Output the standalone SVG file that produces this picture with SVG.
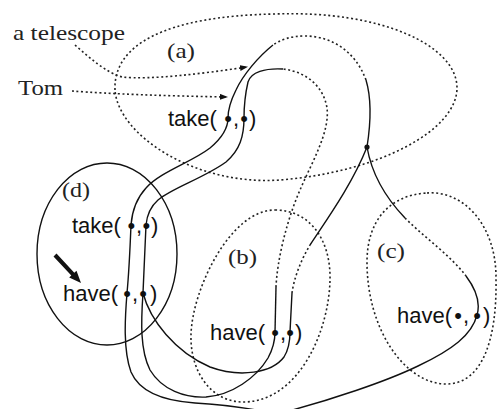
<svg xmlns="http://www.w3.org/2000/svg" width="497" height="409" viewBox="0 0 497 409">
<style>
.bg{fill:#fff}
.dot{fill:none;stroke:#222;stroke-width:1.6;stroke-dasharray:2 2.6}
.sol{fill:none;stroke:#111;stroke-width:1.4}
.serif{font-family:"Liberation Serif","Times New Roman",serif;font-size:22px;fill:#222}
.sans{font-family:"Liberation Sans",Arial,sans-serif;font-size:22px;fill:#111}
</style>
<defs>
<marker id="ah" markerWidth="8" markerHeight="6" refX="7" refY="3" orient="auto" markerUnits="userSpaceOnUse"><path d="M0,0 L8,3 L0,6 z" fill="#111"/></marker>
</defs>
<rect class="bg" x="0" y="0" width="497" height="409"/>

<g id="region-a">
<path class="dot" d="M115,90 C113,45 165,16 275,14 C380,10 457,45 457,88 C457,130 380,172 280,180 C195,186 118,135 115,90 Z"/>
<text class="serif" x="167" y="58" textLength="28" lengthAdjust="spacingAndGlyphs">(a)</text>
</g>
<g id="region-b">
<path class="dot" d="M275,210 C310,210 331,240 330,280 C329,330 300,400 245,402 C210,403 190,370 191,335 C192,290 230,210 275,210 Z"/>
<text class="serif" x="228" y="264" textLength="29" lengthAdjust="spacingAndGlyphs">(b)</text>
</g>
<g id="region-c">
<path class="dot" d="M427,193 C463,190 497,225 496,280 C497,340 482,385 445,384 C405,383 367,330 367,262 C367,220 390,195 427,193 Z"/>
<text class="serif" x="377" y="258" textLength="28" lengthAdjust="spacingAndGlyphs">(c)</text>
</g>
<g id="region-d">
<ellipse class="sol" cx="107" cy="254" rx="70" ry="91"/>
<text class="serif" x="62" y="197" textLength="28" lengthAdjust="spacingAndGlyphs">(d)</text>
<polygon points="53.5,256.4 56.5,253.6 74.3,272.8 76.5,270.8 81,283 69.2,277.6 71.3,275.6" fill="#111"/>
</g>

<g id="label-telescope"><text class="serif" x="13" y="40" textLength="112" lengthAdjust="spacingAndGlyphs">a telescope</text></g>
<g id="label-tom"><text class="serif" x="18" y="95" textLength="45" lengthAdjust="spacingAndGlyphs">Tom</text></g>

<g id="take-a"><text class="sans" x="168" y="126">take(<tspan x="224.2">•</tspan><tspan x="233">,</tspan><tspan x="240.2">•</tspan><tspan x="249">)</tspan></text></g>
<g id="take-d"><text class="sans" x="72" y="233">take(<tspan x="127.5">•</tspan><tspan x="136">,</tspan><tspan x="142.5">•</tspan><tspan x="151">)</tspan></text></g>
<g id="have-d"><text class="sans" x="63" y="301">have(<tspan x="123.2">•</tspan><tspan x="132">,</tspan><tspan x="139.2">•</tspan><tspan x="150">)</tspan></text></g>
<g id="have-b"><text class="sans" x="210" y="340">have(<tspan x="271.2">•</tspan><tspan x="280">,</tspan><tspan x="286.2">•</tspan><tspan x="295">)</tspan></text></g>
<g id="have-c"><text class="sans" x="397" y="323">have(<tspan x="454.2">•</tspan><tspan x="463">,</tspan><tspan x="473.2">•</tspan><tspan x="483">)</tspan></text></g>

<g id="connectors">
<path class="dot" d="M72,91 C110,94 170,96 227,97" marker-end="url(#ah)"/>
<path class="dot" d="M75,45 C90,58 105,72 122,77 C150,80 200,74 247,67" marker-end="url(#ah)"/>

<path class="sol" d="M367,147 C370,128 372,100 366,80"/>
<path class="dot" d="M366,80 C355,50 330,36 305,36 C290,36 280,40 273,45"/>
<path class="sol" d="M273,45 C258,57 243,75 236,90 C231,100 228,110 228,118 C228,128 222,138 210,148 C192,162 160,172 146,188 C135,200 132,212 131,225 C130,250 129,272 127,293 C125,318 123,350 131,372 C140,393 165,401 195,403 C225,405 250,408 270,413"/>

<path class="sol" d="M275,332 L276,287"/>
<path class="dot" d="M276,287 C277,262 286,222 300,190 C312,162 330,132 327,108 C324,88 308,72 283,69"/>
<path class="sol" d="M283,69 C265,68 251,72 248,82 C245,95 244,108 244,118 C244,136 240,150 226,162 C204,178 172,188 158,200 C150,207 147,215 146,225 C145,250 144,272 143,293"/>
<path class="sol" d="M143,293 C141,322 140,350 150,370 C162,390 185,398 206,397 C232,395 256,378 268,358 C274,347 275,338 275,332"/>

<path class="sol" d="M143,293 C150,320 175,352 210,367 C240,378 272,373 284,357 C289,349 290,340 290,332 L292,293"/>
<path class="dot" d="M292,293 C294,278 301,260 310,245"/>
<path class="sol" d="M310,245 C325,222 352,185 367,147"/>

<path class="sol" d="M367,147 C371,170 383,195 405,218"/>
<path class="dot" d="M405,218 C425,238 450,255 466,276"/>
<path class="sol" d="M466,276 C478,292 480,305 477,315 C472,335 452,350 418,366 C385,382 330,400 285,412"/>
<circle cx="367" cy="147" r="2.6" fill="#111"/>
</g>
</svg>
